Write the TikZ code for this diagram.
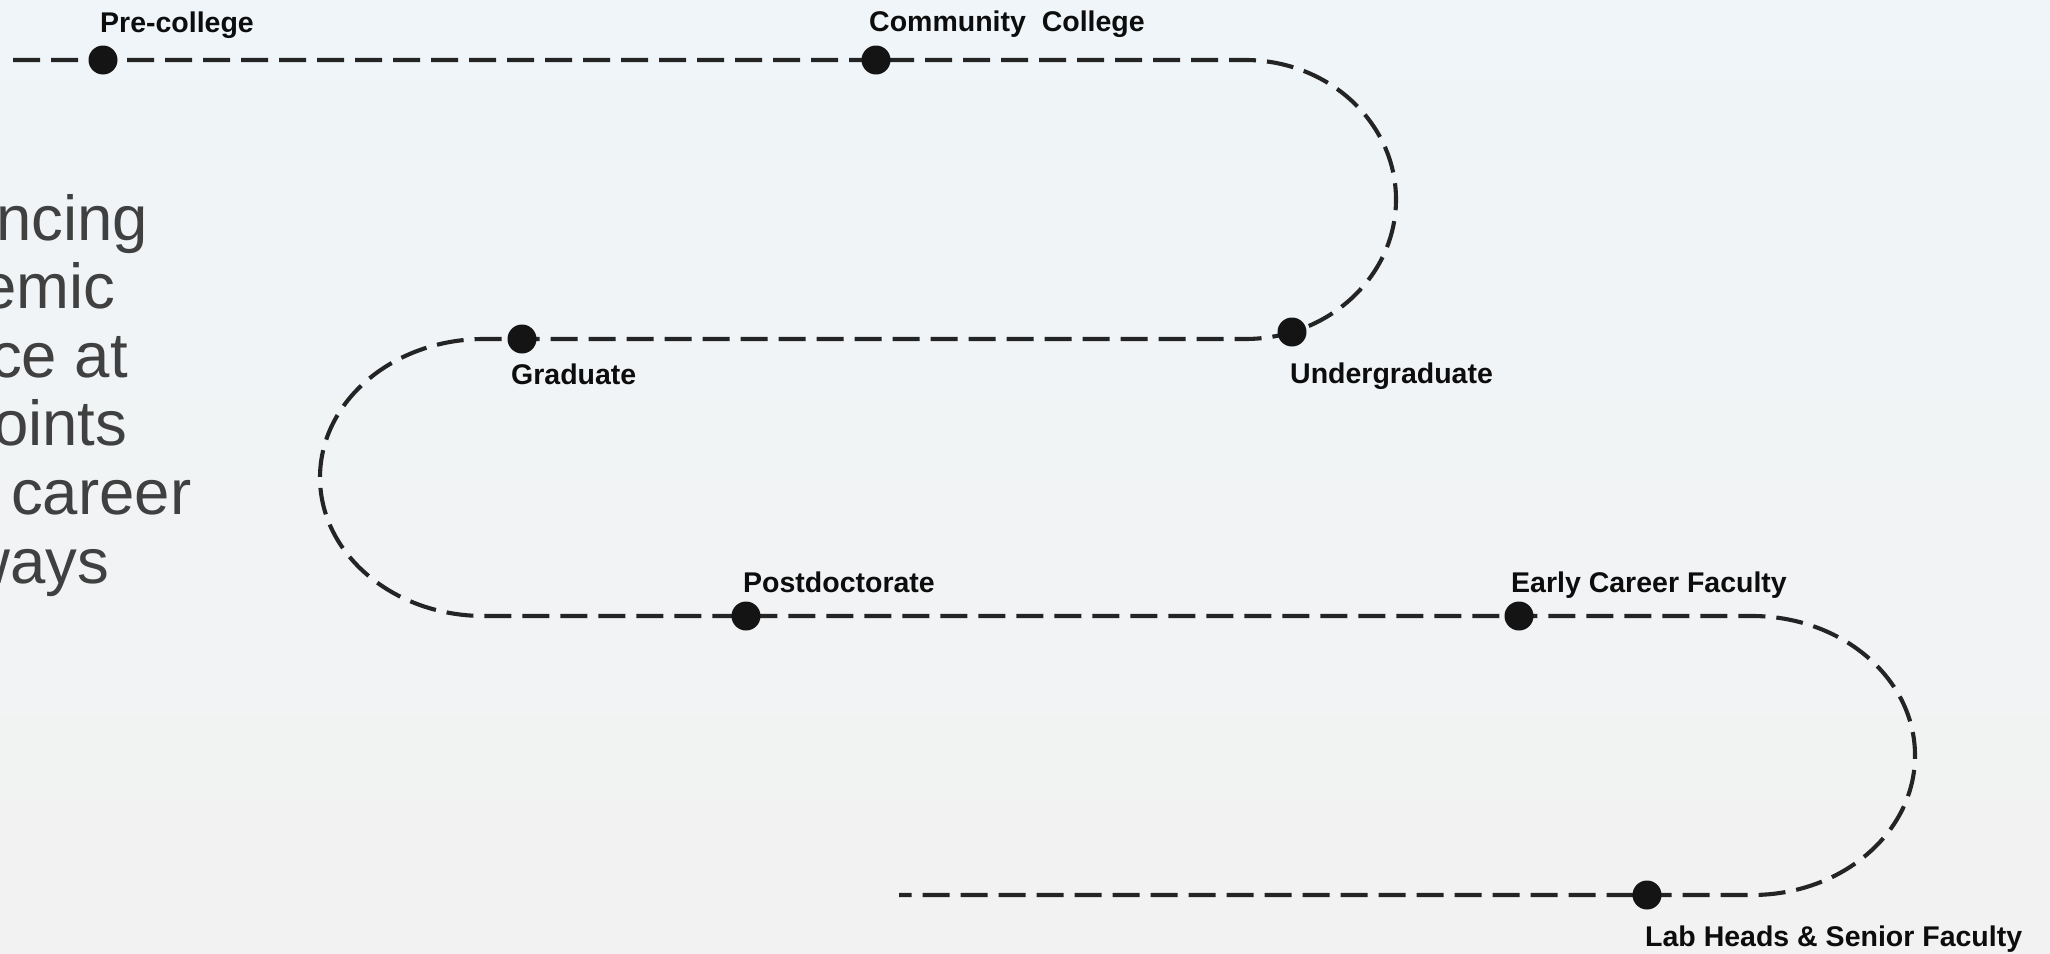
\documentclass[tikz,border=0pt]{standalone}
\usepackage{fontspec}
\setmainfont{Liberation Sans}
\usetikzlibrary{positioning,calc}
\definecolor{bgtop}{RGB}{239,245,248}
\definecolor{bgbot}{RGB}{242,242,242}
\definecolor{trailgray}{RGB}{36,36,36}
\definecolor{blurbgray}{RGB}{64,64,64}
\tikzset{
  stop/.style    = { circle, fill=black!92, inner sep=0pt, minimum size=29pt },
  stoplbl/.style = { anchor=base west, inner sep=0pt, text=black!95,
    font=\bfseries\fontsize{28.5}{30}\selectfont },
  trail/.style   = { draw=trailgray, line width=4.1pt, dash pattern=on 27pt off 11pt },
  blurb/.style   = { anchor=base west, inner sep=0pt, text=blurbgray,
    font=\fontsize{63.5}{68}\selectfont }
}

\begin{document}
\begin{tikzpicture}[x=1pt,y=-1pt]
    \useasboundingbox (0,0) rectangle (2050,953);
    \shade[top color=bgtop, bottom color=bgbot] (0,0) rectangle (2050,953);

    % text running off the left edge
    \begin{scope}
      \clip (0,0) rectangle (2050,953);
      \foreach \txt/\dx [count=\i from 0] in {ncing/-4, emic/-19, ce at/-10, oints/-7, career/11, ways/-36}
        \node[blurb] (blurb\i) at (\dx,240+68.6*\i) {\txt};
    \end{scope}

    % the winding trail
    \coordinate (t0) at (13,60);
    \coordinate (t1) at (1245,60);
    \coordinate (t3) at (484,339);
    \coordinate (t5) at (1752,616);
    \coordinate (t7) at (899,895);
    \path[trail] (t0) -- (t1) arc[start angle=-90, end angle=90, x radius=151, y radius=139.5]
      -- (t3) arc[start angle=-90, end angle=-270, x radius=164, y radius=138.5]
      -- (t5) arc[start angle=-90, end angle=90, x radius=163, y radius=139.5] -- (t7);

    \node[stop] (pre) at (103,60) {};
    \node[stop] (cc) at (876,60) {};
    \node[stop] (ugrad) at (1292,332) {};
    \node[stop] (grad) at (522,339) {};
    \node[stop] (postdoc) at (746,616) {};
    \node[stop] (early) at (1519,616) {};
    \node[stop] (senior) at (1647,895) {};

    \node[stoplbl] (l-pre) at ($(pre)+(-3,-28)$) {Pre-college};
    \node[stoplbl] (l-cc) at ($(cc)+(-7,-29)$) {Community\ \ College};
    \node[stoplbl] (l-ugrad) at ($(ugrad)+(-2,51)$) {Undergraduate};
    \node[stoplbl] (l-grad) at ($(grad)+(-11,45)$) {Graduate};
    \node[stoplbl] (l-postdoc) at ($(postdoc)+(-3,-24)$) {Postdoctorate};
    \node[stoplbl] (l-early) at ($(early)+(-8,-24)$) {Early Career Faculty};
    \node[stoplbl] (l-senior) at ($(senior)+(-2,51)$) {Lab Heads \& Senior Faculty};
\end{tikzpicture}
\end{document}
